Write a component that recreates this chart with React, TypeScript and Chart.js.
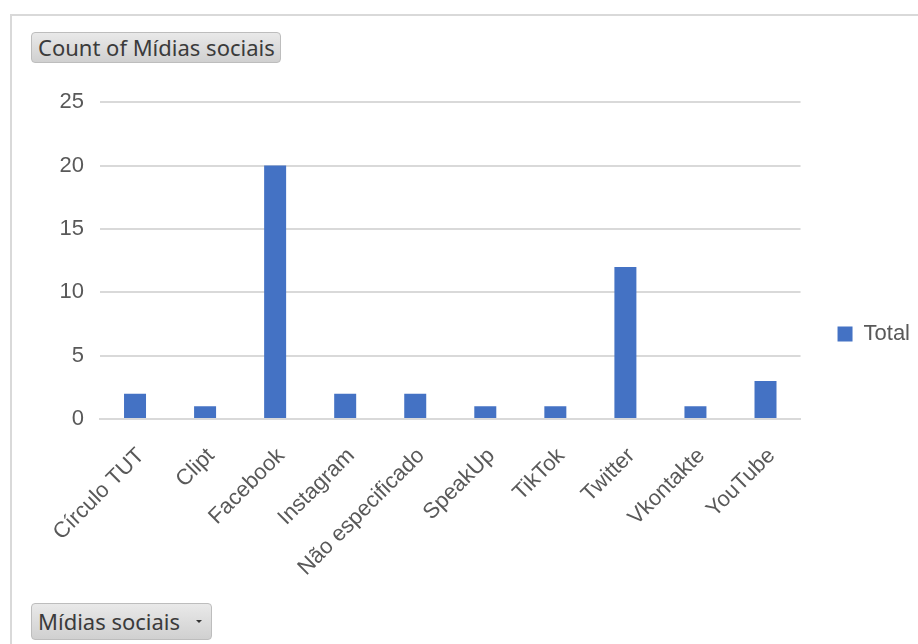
import React, { useEffect, useRef } from "react";
import { Chart, registerables } from "chart.js";

Chart.register(...registerables);

const categories = [
  "Círculo TUT",
  "Clipt",
  "Facebook",
  "Instagram",
  "Não especificado",
  "SpeakUp",
  "TikTok",
  "Twitter",
  "Vkontakte",
  "YouTube",
];
const totals = [2, 1, 20, 2, 2, 1, 1, 12, 1, 3];
const seriesName = "Total";
const titleText = "Count of Mídias sociais";
const fieldText = "Mídias sociais";

const FONT = "'Liberation Sans', Arial, sans-serif";
const UI_FONT = "'Noto Sans', 'Open Sans', sans-serif";
const CHART_FONT_SIZE = 22;

const buttonStyle: React.CSSProperties = {
  position: "absolute",
  boxSizing: "border-box",
  background: "linear-gradient(#e9e9e9, #d0d0d0)",
  border: "1px solid #bdbdbd",
  borderRadius: 4,
  color: "#3b3b3b",
  fontFamily: UI_FONT,
  fontSize: 22,
  paddingLeft: 6,
  whiteSpace: "nowrap",
};

export default function App() {
  const ref = useRef<HTMLCanvasElement | null>(null);

  useEffect(() => {
    document.body.style.margin = "0";
    if (!ref.current) return;
    const chart = new Chart(ref.current, {
      type: "bar",
      data: {
        labels: categories,
        datasets: [
          {
            label: seriesName,
            data: totals,
            backgroundColor: "#4472C4",
            barPercentage: 0.314,
            categoryPercentage: 1,
          },
        ],
      },
      options: {
        animation: false,
        responsive: false,
        devicePixelRatio: 1,
        layout: { padding: { top: 14, right: 2, left: 0, bottom: 21 } },
        plugins: {
          title: { display: false },
          tooltip: { enabled: false },
          legend: {
            position: "right",
            labels: {
              boxWidth: 15,
              boxHeight: 15,
              padding: 37,
              color: "#595959",
              font: { family: FONT, size: CHART_FONT_SIZE },
            },
          },
        },
        scales: {
          x: {
            afterFit: (scale: any) => {
              scale.height = 162;
            },
            grid: { display: false },
            border: { display: true, color: "#d9d9d9", width: 2 },
            ticks: {
              color: "#595959",
              font: { family: FONT, size: CHART_FONT_SIZE },
              minRotation: 45,
              maxRotation: 45,
              padding: 16,
              labelOffset: 6,
            },
          },
          y: {
            afterFit: (scale: any) => {
              scale.width = 88;
            },
            min: 0,
            max: 25,
            grid: { color: "#d9d9d9", lineWidth: 2, drawTicks: false },
            border: { display: false },
            ticks: {
              stepSize: 5,
              color: "#595959",
              font: { family: FONT, size: CHART_FONT_SIZE },
              padding: 16,
            },
          },
        },
      },
    });
    return () => chart.destroy();
  }, []);

  return (
    <div
      style={{
        position: "fixed",
        left: 0,
        top: 0,
        width: 918,
        height: 644,
        background: "#fff",
        overflow: "hidden",
      }}
    >
      <div
        style={{
          position: "absolute",
          left: 10,
          top: 14,
          width: 960,
          height: 700,
          borderTop: "2px solid #d9d9d9",
          borderLeft: "2px solid #d9d9d9",
        }}
      />
      <canvas
        ref={ref}
        width={910}
        height={529}
        style={{ position: "absolute", left: 12, top: 73, width: 910, height: 529 }}
      />
      <div style={{ ...buttonStyle, left: 31, top: 32, width: 250, height: 31, lineHeight: "29px" }}>
        {titleText}
      </div>
      <div style={{ ...buttonStyle, left: 31, top: 603, width: 181, height: 37, lineHeight: "35px" }}>
        {fieldText}
        <span
          style={{
            position: "absolute",
            right: 9,
            top: 16,
            width: 0,
            height: 0,
            borderLeft: "3px solid transparent",
            borderRight: "3px solid transparent",
            borderTop: "3px solid #333",
          }}
        />
      </div>
    </div>
  );
}
